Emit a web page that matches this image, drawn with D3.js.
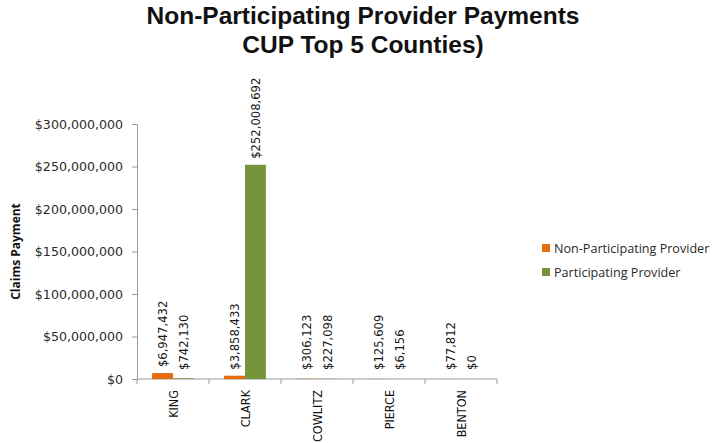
<!DOCTYPE html>
<html>
<head>
<meta charset="utf-8">
<script src="https://cdn.jsdelivr.net/npm/d3@7"></script>
<style>
  html, body { margin: 0; padding: 0; background: #fff; }
  svg { display: block; }
</style>
</head>
<body>
<script>
// County names along the category axis
const counties = ["KING", "CLARK", "COWLITZ", "PIERCE", "BENTON"];
// Claims paid to each provider type, per county (USD)
const nonParticipating = [6947432, 3858433, 306123, 125609, 77812];
const participating = [742130, 252008692, 227098, 6156, 0];
const seriesNames = ["Non-Participating Provider", "Participating Provider"];
const seriesColors = ["#E46C0A", "#77933C"];
const yTicks = [0, 50000000, 100000000, 150000000, 200000000, 250000000, 300000000];

const W = 717, H = 443;
const margin = { left: 137, right: 220, top: 124, bottom: 64 };

const svg = d3.select("body").append("svg")
  .attr("width", W).attr("height", H);

const x0 = d3.scaleBand()
  .domain(counties)
  .range([margin.left, W - margin.right])
  .paddingInner(0.42).paddingOuter(0.21);

const x1 = d3.scaleBand()
  .domain(seriesNames)
  .range([0, x0.bandwidth()]);

const y = d3.scaleLinear()
  .domain([0, 300000000])
  .range([H - margin.bottom, margin.top]);

const fmt = d3.format("$,");

// Title, two lines
[["Non-Participating Provider Payments", 24], ["CUP Top 5 Counties)", 53]].forEach(([t, ty]) => {
  svg.append("text")
    .attr("x", 363).attr("y", ty)
    .attr("text-anchor", "middle")
    .attr("font-family", "'Liberation Sans', Arial, sans-serif")
    .attr("font-weight", "bold")
    .attr("font-size", 24.5)
    .attr("fill", "#111")
    .text(t);
});

// Y axis
const yAxis = svg.append("g")
  .attr("transform", `translate(${margin.left},0)`)
  .call(d3.axisLeft(y).tickValues(yTicks).tickFormat(fmt).tickSize(5).tickPadding(9));
yAxis.select(".domain").attr("stroke", "#9a9a9a");
yAxis.selectAll(".tick line").attr("stroke", "#9a9a9a");
yAxis.selectAll(".tick text")
  .attr("font-family", "'DejaVu Sans', sans-serif")
  .attr("font-size", 12.6)
  .attr("fill", "#2a2a2a");

// Y axis title
svg.append("text")
  .attr("transform", `translate(20,${(205 + 298) / 2}) rotate(-90)`)
  .attr("text-anchor", "middle")
  .attr("font-family", "'Open Sans', sans-serif")
  .attr("font-weight", "bold")
  .attr("font-size", 12)
  .attr("fill", "#111")
  .text("Claims Payment");

// X axis with ticks at category boundaries
const xg = svg.append("g").attr("transform", `translate(0,${y(0)})`);
const [xa, xb] = x0.range();
xg.append("line").attr("x1", xa).attr("x2", xb).attr("stroke", "#9a9a9a");
d3.range(counties.length + 1).forEach(i => {
  const xx = xa + i * (xb - xa) / counties.length;
  xg.append("line").attr("x1", xx).attr("x2", xx).attr("y1", 0).attr("y2", 5).attr("stroke", "#9a9a9a");
});
counties.forEach(c => {
  const cx = x0(c) + x0.bandwidth() / 2;
  xg.append("text")
    .attr("transform", `translate(${cx + 4.5},11) rotate(-90)`)
    .attr("text-anchor", "end")
    .attr("font-family", "'DejaVu Sans Condensed', 'DejaVu Sans', sans-serif")
    .attr("font-size", 12.5)
    .attr("fill", "#111")
    .text(c);
});

// Bars and value labels
const rows = counties.map((c, i) => ({ county: c, values: [nonParticipating[i], participating[i]] }));
const groups = svg.selectAll("g.county").data(rows).join("g")
  .attr("class", "county")
  .attr("transform", d => `translate(${x0(d.county)},0)`);

groups.selectAll("rect").data(d => d.values.map((v, k) => ({ v, k })))
  .join("rect")
  .attr("x", d => x1(seriesNames[d.k]))
  .attr("width", x1.bandwidth())
  .attr("y", d => y(d.v))
  .attr("height", d => y(0) - y(d.v))
  .attr("fill", d => seriesColors[d.k]);

groups.selectAll("text.val").data(d => d.values.map((v, k) => ({ v, k })))
  .join("text")
  .attr("class", "val")
  .attr("transform", d => `translate(${x1(seriesNames[d.k]) + x1.bandwidth() / 2 + 4.5},${Math.min(y(d.v), y(0) - 3) - 6}) rotate(-90)`)
  .attr("font-family", "'DejaVu Sans', sans-serif")
  .attr("font-size", 11.6)
  .attr("fill", "#1a1a1a")
  .text(d => fmt(d.v));

// Legend
const legend = svg.append("g");
seriesNames.forEach((s, i) => {
  const ly = 248 + i * 24;
  legend.append("rect").attr("x", 542).attr("y", ly - 4).attr("width", 8).attr("height", 8).attr("fill", seriesColors[i]);
  legend.append("text")
    .attr("x", 554).attr("y", ly + 4.5)
    .attr("font-family", "'Open Sans', sans-serif")
    .attr("font-size", 12.6)
    .attr("fill", "#2a2a2a")
    .text(s);
});
</script>
</body>
</html>
